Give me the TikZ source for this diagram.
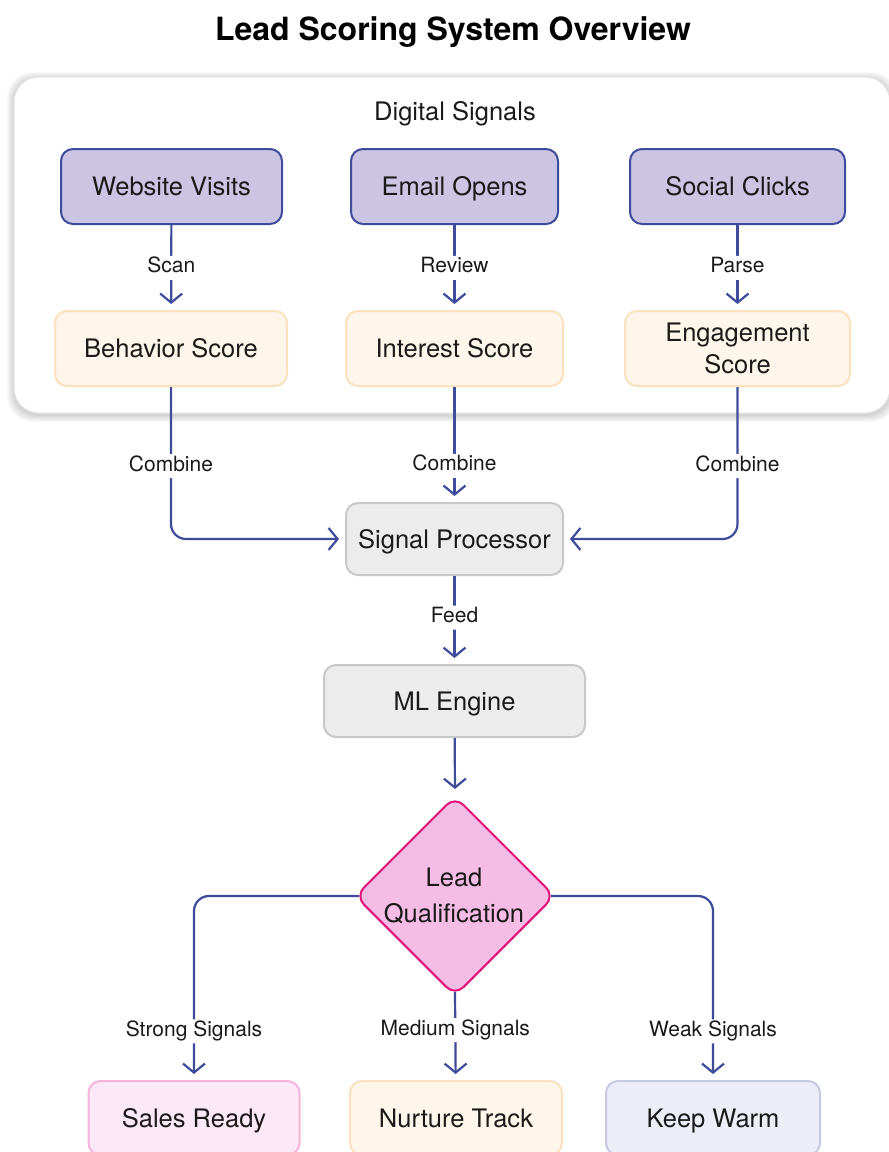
\documentclass[tikz,border=0pt]{standalone}
\usepackage{fontspec}
\setmainfont{TeX Gyre Heros}
\usetikzlibrary{arrows.meta,shapes.geometric}
\definecolor{edgeC}{HTML}{3F4C9B}
\definecolor{purpF}{HTML}{CBC4E2}
\definecolor{purpD}{HTML}{3F4C9B}
\definecolor{orF}{HTML}{FEF6EA}
\definecolor{orD}{HTML}{FBE2BE}
\definecolor{grF}{HTML}{ECECEC}
\definecolor{grD}{HTML}{C8C8C8}
\definecolor{dmF}{HTML}{F5BCE6}
\definecolor{dmD}{HTML}{E1127A}
\definecolor{pkF}{HTML}{FCE8F6}
\definecolor{pkD}{HTML}{F5B4DB}
\definecolor{lvF}{HTML}{EDEDF7}
\definecolor{lvD}{HTML}{C6C9E3}
\definecolor{txt}{HTML}{1A1A1A}
\begin{document}
\begin{tikzpicture}[x=1pt,y=-1pt,
  box/.style={rounded corners=12pt, line width=2pt, minimum height=75pt, inner sep=0pt, align=center, text=txt, text height=18pt, text depth=0pt, font=\fontsize{25.5}{32}\selectfont},
  src/.style={box, fill=purpF, draw=purpD},
  score/.style={box, fill=orF, draw=orD},
  proc/.style={box, fill=grF, draw=grD, minimum height=72pt},
  conn/.style={draw=edgeC, line width=2.2pt, -{Straight Barb[length=9pt,width=22pt,line width=2.2pt]}, shorten >=6pt, rounded corners=15pt},
  lbl/.style={fill=white, inner sep=2pt, text=txt, text height=15pt, text depth=5pt, yshift=-3pt, font=\fontsize{21}{24}\selectfont}]
\useasboundingbox (0,0) rectangle (889,1152);
\fill[white] (0,0) rectangle (889,1152);

\node[font=\bfseries\fontsize{32}{36}\selectfont, text=black, text height=23pt, text depth=0pt] (title) at (453,29) {Lead Scoring System Overview};

% cluster shadow
\foreach \i in {1,...,7}{
  \fill[black, opacity=0.022, rounded corners=25pt] (14-\i,77-\i+2) rectangle (890+\i,413+\i+2);
}
\node[draw=black!10, fill=white, rounded corners=25pt, line width=1pt, minimum width=876pt, minimum height=336pt, inner sep=0pt] (cl) at (452,245) {};
\node[text=txt, text height=18pt, text depth=0pt, font=\fontsize{25.5}{30}\selectfont] (dl) at (455,111) {Digital Signals};

\node[src, minimum width=221pt] (wv) at (171.5,186.5) {Website Visits};
\node[src, minimum width=207pt] (eo) at (454.5,186.5) {Email Opens};
\node[src, minimum width=215pt] (sc) at (737.5,186.5) {Social Clicks};
\node[score, minimum width=232pt] (bs) at (171,348.5) {Behavior Score};
\node[score, minimum width=217pt] (is) at (454.5,348.5) {Interest Score};
\node[score, minimum width=225pt, text height={}, text depth={}] (es) at (737.5,348.5) {Engagement\\Score};
\node[proc, minimum width=217pt] (sp) at (454.5,539) {Signal Processor};
\node[proc, minimum width=261pt] (ml) at (454.5,701) {ML Engine};
\node[diamond, aspect=1, minimum width=200pt, minimum height=200pt, inner sep=0pt, fill=dmF, draw=dmD, line width=2pt, rounded corners=12pt] (lq) at (455,896) {};
\node[align=center, text=txt, font=\fontsize{25.5}{36}\selectfont] (lqt) at (454,896) {Lead\\Qualification};
\node[box, fill=pkF, draw=pkD, minimum width=211pt, minimum height=74pt] (sr) at (194,1118) {Sales Ready};
\node[box, fill=orF, draw=orD, minimum width=212pt, minimum height=74pt] (nt) at (456,1118) {Nurture Track};
\node[box, fill=lvF, draw=lvD, minimum width=214pt, minimum height=74pt] (kw) at (713,1118) {Keep Warm};

\draw[conn] (wv) -- node[lbl,pos=0.47]{Scan} (bs);
\draw[conn] (eo) -- node[lbl,pos=0.47]{Review} (is);
\draw[conn] (sc) -- node[lbl,pos=0.47]{Parse} (es);
\draw[conn] (bs.south) |- node[lbl,pos=0.25]{Combine} (sp.west);
\draw[conn] (is) -- node[lbl,pos=0.66]{Combine} (sp);
\draw[conn] (es.south) |- node[lbl,pos=0.25]{Combine} (sp.east);
\draw[conn] (sp) -- node[lbl,pos=0.44]{Feed} (ml);
\draw[conn] (ml) -- (lq.north);
\draw[conn] ([xshift=5pt]lq.west) -| node[lbl,pos=0.86]{Strong Signals} (sr.north);
\draw[conn] ([yshift=5pt]lq.south) -- node[lbl,pos=0.4]{Medium Signals} (nt);
\draw[conn] ([xshift=-5pt]lq.east) -| node[lbl,pos=0.86]{Weak Signals} (kw.north);
\end{tikzpicture}
\end{document}
